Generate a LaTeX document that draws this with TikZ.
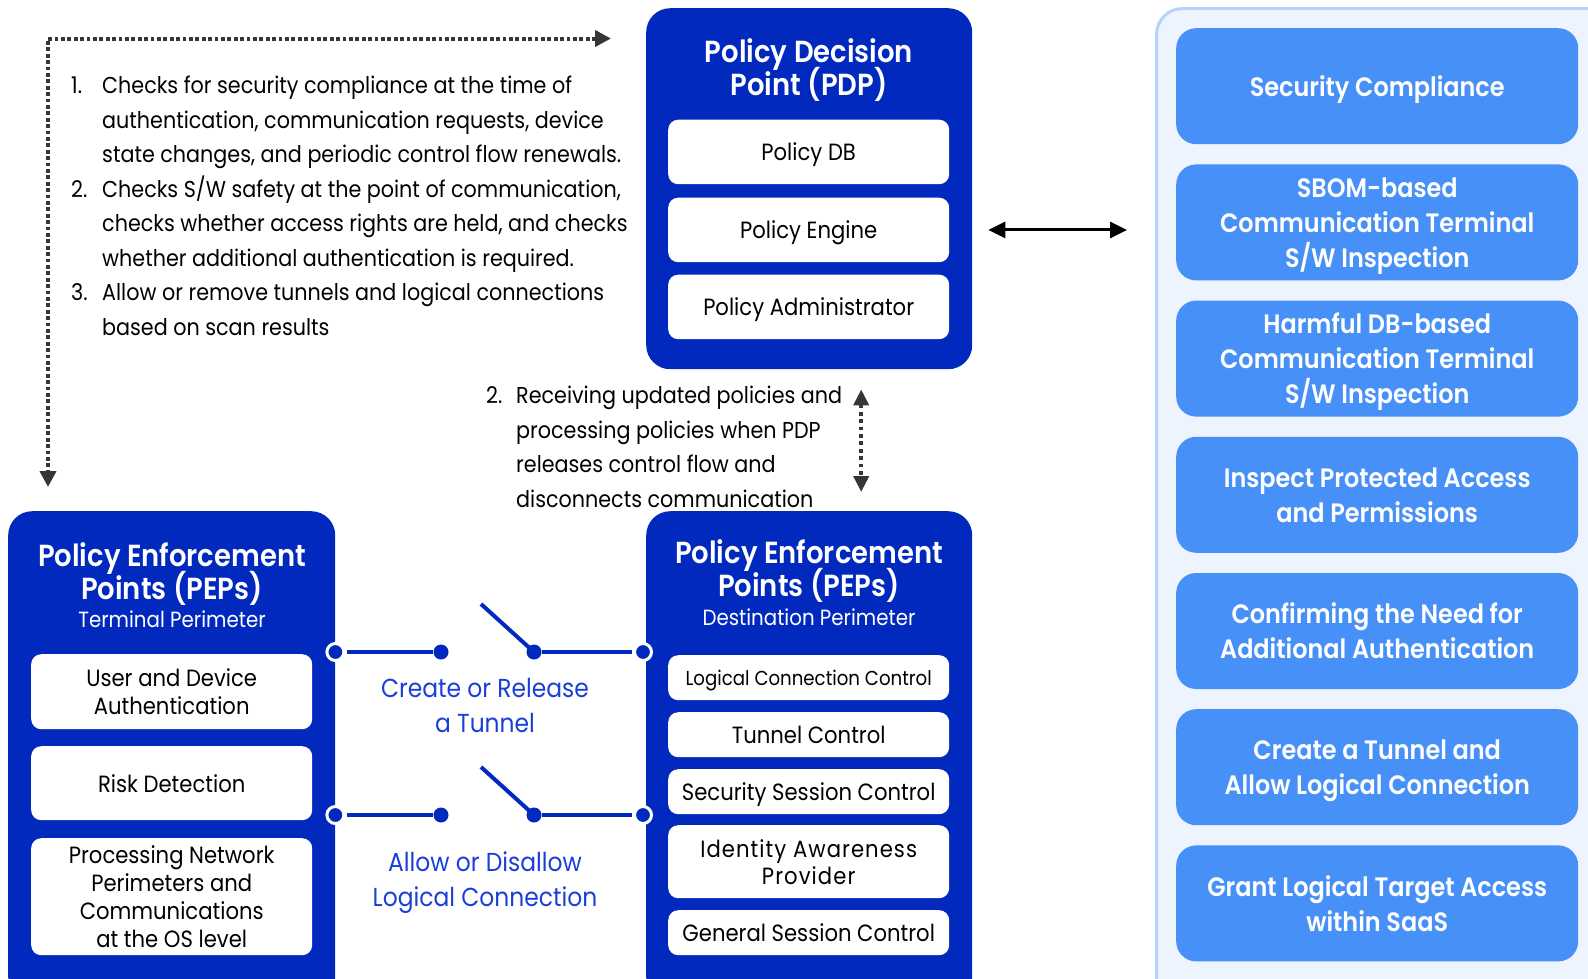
\documentclass[tikz,border=0pt]{standalone}
\usepackage{fontspec}
\setmainfont{Poppins}[FakeStretch=0.9,BoldFont={Poppins SemiBold}]
\usetikzlibrary{arrows.meta}
\definecolor{dkblue}{HTML}{0229BE}
\definecolor{ltblue}{HTML}{4790F8}
\definecolor{panelfill}{HTML}{EEF4FD}
\definecolor{panelline}{HTML}{B8D3F8}
\definecolor{lblblue}{HTML}{1A3FD9}
\definecolor{dotgray}{HTML}{363636}
\begin{document}
\begin{tikzpicture}[x=1pt,y=-1pt,
  bigbox/.style={fill=dkblue,rounded corners=24pt,anchor=north west,inner sep=0pt},
  wbox/.style={fill=white,rounded corners=10pt,anchor=north west,inner sep=0pt,align=center,
    text=black,text depth=0pt,minimum width=281pt,font=\fontsize{23.5}{28}\selectfont},
  lbox/.style={fill=ltblue,rounded corners=20pt,anchor=north west,inner sep=0pt,align=center,text=white,
    text depth=0pt,minimum width=402pt,minimum height=116pt,font=\fontsize{26.6}{35}\selectfont\bfseries},
  title/.style={text=white,align=center,font=\fontsize{30.5}{32.5}\selectfont\bfseries},
  subtitle/.style={text=white,font=\fontsize{22}{25}\selectfont},
  body/.style={font=\fontsize{23}{34.5}\selectfont,align=left,anchor=north west,inner sep=0pt},
  ocirc/.style={circle,draw=white,fill=dkblue,line width=3pt,minimum size=17pt,inner sep=0pt},
  fdot/.style={circle,fill=dkblue,minimum size=15pt,inner sep=0pt},
  wire/.style={draw=dkblue,line width=4pt},
  swlabel/.style={text=lblblue,align=center,font=\fontsize{26}{35}\selectfont},
  dotarrow/.style={draw=dotgray,line width=4pt,dash pattern=on 3.8pt off 2.6pt,
    {Triangle[length=16pt,width=16pt]}-{Triangle[length=16pt,width=16pt]}}
]
\useasboundingbox (0,0) rectangle (1588,978);

% right-hand panel of checks
\node[fill=panelfill,draw=panelline,line width=3pt,rounded corners=26pt,anchor=north west,
  minimum width=460pt,minimum height=1000pt] (panel) at (1155,7) {};
\foreach \i/\t in {0/{Security Compliance},
  1/{SBOM-based\\Communication Terminal\\S/W Inspection},
  2/{Harmful DB-based\\Communication Terminal\\S/W Inspection},
  3/{Inspect Protected Access\\and Permissions},
  4/{Confirming the Need for\\Additional Authentication},
  5/{Create a Tunnel and\\Allow Logical Connection},
  6/{Grant Logical Target Access\\within SaaS}}
  \node[lbox] (chk\i) at (1176,{28+136.2*\i}) {\t};

% policy decision point
\node[bigbox,minimum width=326pt,minimum height=361pt] (pdp) at (646,8) {};
\node[title] (pdpt) at (809,70) {Policy Decision\\[-3.5pt]Point (PDP)};
\node[wbox,minimum height=64.5pt] (db) at (668,119.5) {Policy DB};
\node[wbox,minimum height=64.5pt] (eng) at (668,197.5) {Policy Engine};
\node[wbox,minimum height=64.5pt] (adm) at (668,274.5) {Policy Administrator};

% enforcement point, terminal side
\node[bigbox,minimum width=327pt,minimum height=490pt] (pepL) at (8,511) {};
\node[title] (pepLt) at (172,574) {Policy Enforcement\\[-3.5pt]Points (PEPs)};
\node[subtitle] (pepLs) at (172,619) {Terminal Perimeter};
\node[wbox,minimum height=75pt] (uda) at (31,654) {User and Device\\Authentication};
\node[wbox,minimum height=74pt] (risk) at (31,746) {Risk Detection};
\node[wbox,minimum height=117pt] (osl) at (31,838) {Processing Network\\Perimeters and\\Communications\\at the OS level};

% enforcement point, destination side
\node[bigbox,minimum width=326pt,minimum height=490pt] (pepR) at (646,511) {};
\node[title] (pepRt) at (809,571) {Policy Enforcement\\[-3.5pt]Points (PEPs)};
\node[subtitle] (pepRs) at (809,617) {Destination Perimeter};
\node[wbox,minimum height=45pt,font=\fontsize{20.2}{26}\selectfont] (lcc) at (668,655) {Logical Connection Control};
\node[wbox,minimum height=45pt] (tun) at (668,712) {Tunnel Control};
\node[wbox,minimum height=45pt] (ssc) at (668,769) {Security Session Control};
\node[wbox,minimum height=73pt,font=\fontsize{23.5}{27}\selectfont\addfontfeature{LetterSpace=4.5}] (iap) at (668,825) {Identity Awareness\\Provider};
\node[wbox,minimum height=45pt] (gsc) at (668,910) {General Session Control};

% PDP <-> checks
\draw[line width=3pt,{Triangle[length=17pt,width=16pt]}-{Triangle[length=17pt,width=16pt]}]
  ([xshift=16pt]pdp.east |- eng.center) -- ([xshift=-28pt]panel.west |- eng.center);

% numbered list of checks
\node[body] (list) at (71,76) {%
  \makebox[31pt][l]{1.}Checks for security compliance at the time of\\
  \hspace*{31pt}authentication, communication requests, device\\
  \hspace*{31pt}state changes, and periodic control flow renewals.\\
  \makebox[31pt][l]{2.}Checks S/W safety at the point of communication,\\
  \hspace*{31pt}checks whether access rights are held, and checks\\
  \hspace*{31pt}whether additional authentication is required.\\
  \makebox[31pt][l]{3.}Allow or remove tunnels and logical connections\\
  \hspace*{31pt}based on scan results};

% loop from the terminal PEP to the PDP
\coordinate (corner) at (48,38.5);
\draw[dotarrow,shorten <=35pt,shorten >=24pt] (pdp.west |- corner) -- (corner) -- (corner |- pepL.north);

% policy update note
\node[body] (upd) at (486,386) {%
  \makebox[30pt][l]{2.}Receiving updated policies and\\
  \hspace*{30pt}processing policies when PDP\\
  \hspace*{30pt}releases control flow and\\
  \hspace*{30pt}disconnects communication};
\draw[dotarrow,dash pattern=on 3.8pt off 3.6pt,
  {Triangle[length=16pt,width=15pt]}-{Triangle[length=16pt,width=15pt]},shorten <=20pt,shorten >=19pt]
  ([xshift=52pt]pdp.south) -- ([xshift=52pt]pepR.north);

% tunnel switch
\coordinate (row1) at (0,652);
\coordinate (row2) at (0,815);
\node[ocirc] (s1a) at (pepL.east |- row1) {};
\node[fdot] (s1b) at (441,652) {};
\node[fdot] (s1c) at (534,652) {};
\node[ocirc] (s1d) at ([xshift=-3pt]pepR.west |- row1) {};
\coordinate (s1t) at (481,604);
\draw[wire,shorten <=1.5pt] (s1a) -- (s1b);
\draw[wire,shorten >=1.5pt] (s1c) -- (s1d);
\draw[wire] (s1c.center) -- (s1t);
\node[swlabel] (sw1) at (485,705) {Create or Release\\a Tunnel};

% logical connection switch
\node[ocirc] (s2a) at (pepL.east |- row2) {};
\node[fdot] (s2b) at (441,815) {};
\node[fdot] (s2c) at (534,815) {};
\node[ocirc] (s2d) at ([xshift=-3pt]pepR.west |- row2) {};
\coordinate (s2t) at (481,767);
\draw[wire,shorten <=1.5pt] (s2a) -- (s2b);
\draw[wire,shorten >=1.5pt] (s2c) -- (s2d);
\draw[wire] (s2c.center) -- (s2t);
\node[swlabel] (sw2) at (485,883) {Allow or Disallow\\Logical Connection};
\end{tikzpicture}
\end{document}
